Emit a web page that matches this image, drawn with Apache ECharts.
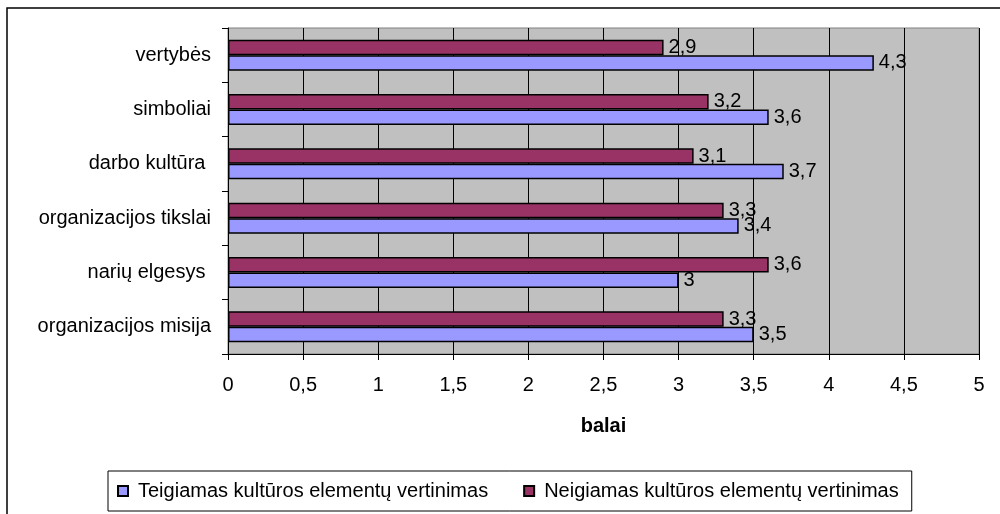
<!DOCTYPE html>
<html>
<head>
<meta charset="utf-8">
<script src="https://cdn.jsdelivr.net/npm/echarts@6/dist/echarts.min.js"></script>
<style>
  html, body { margin: 0; padding: 0; background: #fff; }
  #chart { width: 1000px; height: 514px; }
</style>
</head>
<body>
<div id="chart"></div>
<script>
// Categories listed bottom to top (category axis starts at the bottom)
const categories = [
  'organizacijos misija',
  'narių elgesys ',
  'organizacijos tikslai',
  'darbo kultūra ',
  'simboliai',
  'vertybės'
];
const positiveName = 'Teigiamas kultūros elementų vertinimas';
const negativeName = 'Neigiamas kultūros elementų vertinimas';
const positiveValues = [3.5, 3, 3.4, 3.7, 3.6, 4.3];
const negativeValues = [3.3, 3.6, 3.3, 3.1, 3.2, 2.9];
const xTicks = [0, 0.5, 1, 1.5, 2, 2.5, 3, 3.5, 4, 4.5, 5];
const axisTitle = 'balai';

const FONT = 'Liberation Sans, Arial, sans-serif';
const comma = v => String(v).replace('.', ',');

const chart = echarts.init(document.getElementById('chart'), null, { renderer: 'canvas' });

const labelStyle = {
  show: true,
  position: 'right',
  distance: 5,
  color: '#000',
  fontFamily: FONT,
  fontSize: 20,
  formatter: p => comma(p.value)
};

chart.setOption({
  animation: false,
  backgroundColor: '#fff',
  textStyle: { fontFamily: FONT },
  graphic: [{
    type: 'rect',
    shape: { x: 7, y: 8, width: 1010, height: 520 },
    style: { fill: 'none', stroke: '#000', lineWidth: 1.5 },
    z: 100
  }],
  grid: {
    left: 228,
    right: 21,
    top: 28,
    bottom: 160,
    show: true,
    backgroundColor: '#C0C0C0',
    borderColor: '#808080',
    borderWidth: 1
  },
  legend: {
    left: 108,
    top: 471,
    orient: 'horizontal',
    padding: [10, 13, 10, 9],
    itemWidth: 10,
    itemHeight: 10,
    itemGap: 35,
    borderColor: '#000',
    borderWidth: 1,
    icon: 'rect',
    textStyle: {
      fontFamily: FONT,
      fontSize: 20,
      color: '#000',
      padding: [0, 0, 0, 5]
    },
    data: [positiveName, negativeName]
  },
  xAxis: {
    type: 'value',
    min: 0,
    max: 5,
    interval: 0.5,
    name: axisTitle,
    nameLocation: 'middle',
    nameGap: 62,
    nameTextStyle: { fontFamily: FONT, fontSize: 20, fontWeight: 'bold', color: '#000' },
    axisLine: { show: true, lineStyle: { color: '#000', width: 1 } },
    axisTick: { show: true, length: 6, lineStyle: { color: '#000' } },
    axisLabel: {
      margin: 21,
      color: '#000',
      fontFamily: FONT,
      fontSize: 20,
      formatter: v => xTicks.includes(v) ? comma(v) : ''
    },
    splitLine: { show: true, lineStyle: { color: '#000', width: 1 } }
  },
  yAxis: {
    type: 'category',
    data: categories,
    axisLine: { show: true, lineStyle: { color: '#000', width: 1 } },
    axisTick: { show: true, length: 6, lineStyle: { color: '#000' } },
    axisLabel: {
      margin: 17,
      color: '#000',
      fontFamily: FONT,
      fontSize: 20
    },
    splitLine: { show: false }
  },
  // Negative series first so it sits above the positive bar in each band
  series: [
    {
      name: negativeName,
      type: 'bar',
      data: negativeValues,
      barGap: '0%',
      barCategoryGap: '43%',
      itemStyle: { color: '#993366', borderColor: '#000', borderWidth: 1.5 },
      label: labelStyle
    },
    {
      name: positiveName,
      type: 'bar',
      data: positiveValues,
      barGap: '0%',
      barCategoryGap: '43%',
      itemStyle: { color: '#9999FF', borderColor: '#000', borderWidth: 1.5 },
      label: labelStyle
    }
  ]
});
</script>
</body>
</html>
